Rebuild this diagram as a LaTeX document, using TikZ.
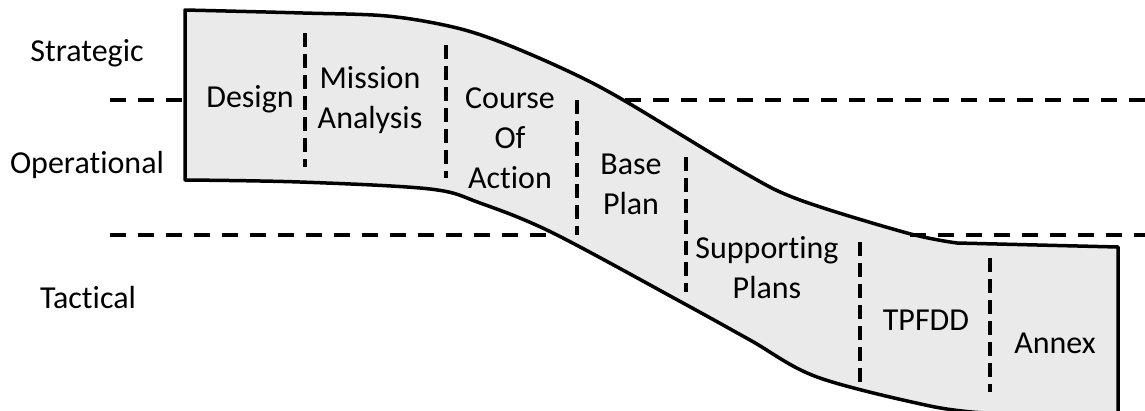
\documentclass[tikz,border=0pt]{standalone}
\usepackage{fontspec}
\setmainfont{Carlito}[Ligatures={NoCommon}]
\definecolor{bandfill}{HTML}{EAEAEA}
\begin{document}
\begin{tikzpicture}[x=1pt,y=-1pt,
  outline/.style={line width=3.5pt, line join=round},
  hdash/.style={line width=4pt, dash pattern=on 16pt off 12pt},
  vdash/.style={line width=4pt, dash pattern=on 14pt off 7pt},
  lbl/.style={font=\fontsize{32}{40}\selectfont, align=center, inner sep=0pt}]
\useasboundingbox (0,0) rectangle (1145,410);
% band
\filldraw[outline, fill=bandfill]
  plot[smooth, tension=0.55] coordinates {(185,10) (303,13) (387,16) (453,27) (503,43) (570,72) (625,101) (743,172) (800,200) (907,233) (957,243)}
  -- (1118,247) -- (1118,414) -- (985,414)
  -- plot[smooth, tension=0.55] coordinates {(985,413) (930,406) (817,377) (750,340) (683,303) (553,233) (480,203) (430,189) (300,182) (185,180)}
  -- cycle;
% level lines
\coordinate (s1) at (110,100); \coordinate (s2) at (185,100);
\coordinate (s3) at (625,100); \coordinate (s4) at (1145,100);
\coordinate (t1) at (110,235); \coordinate (t2) at (555,235);
\coordinate (t3) at (910,235); \coordinate (t4) at (1145,235);
\draw[hdash] (s1) -- (s2);
\draw[hdash] (s3) -- (s4);
\draw[hdash] (t1) -- (t2);
\draw[hdash] (t3) -- (t4);
% phase separators
\draw[vdash] (305,33) -- (305,167);
\draw[vdash] (446,45) -- (446,178);
\draw[vdash] (577,100) -- (577,235);
\draw[vdash] (686,157) -- (686,292);
\draw[vdash] (860,242) -- (860,382);
\draw[vdash] (990,258) -- (990,392);
% level labels
\node[lbl] (strat) at (87,53) {Strategic};
\node[lbl] (oper) at (87,165) {Operational};
\node[lbl] (tact) at (88,298) {Tactical};
% phase labels
\node[lbl] (design) at (250,99) {Design};
\node[lbl] (mission) at (370,100) {Mission\\Analysis};
\node[lbl] (coa) at (510,138) {Course\\Of\\Action};
\node[lbl] (base) at (631,184) {Base\\Plan};
\node[lbl] (supp) at (767,268) {Supporting\\Plans};
\node[lbl] (tpfdd) at (926,320) {TPFDD};
\node[lbl] (annex) at (1055,343) {Annex};
\end{tikzpicture}
\end{document}
